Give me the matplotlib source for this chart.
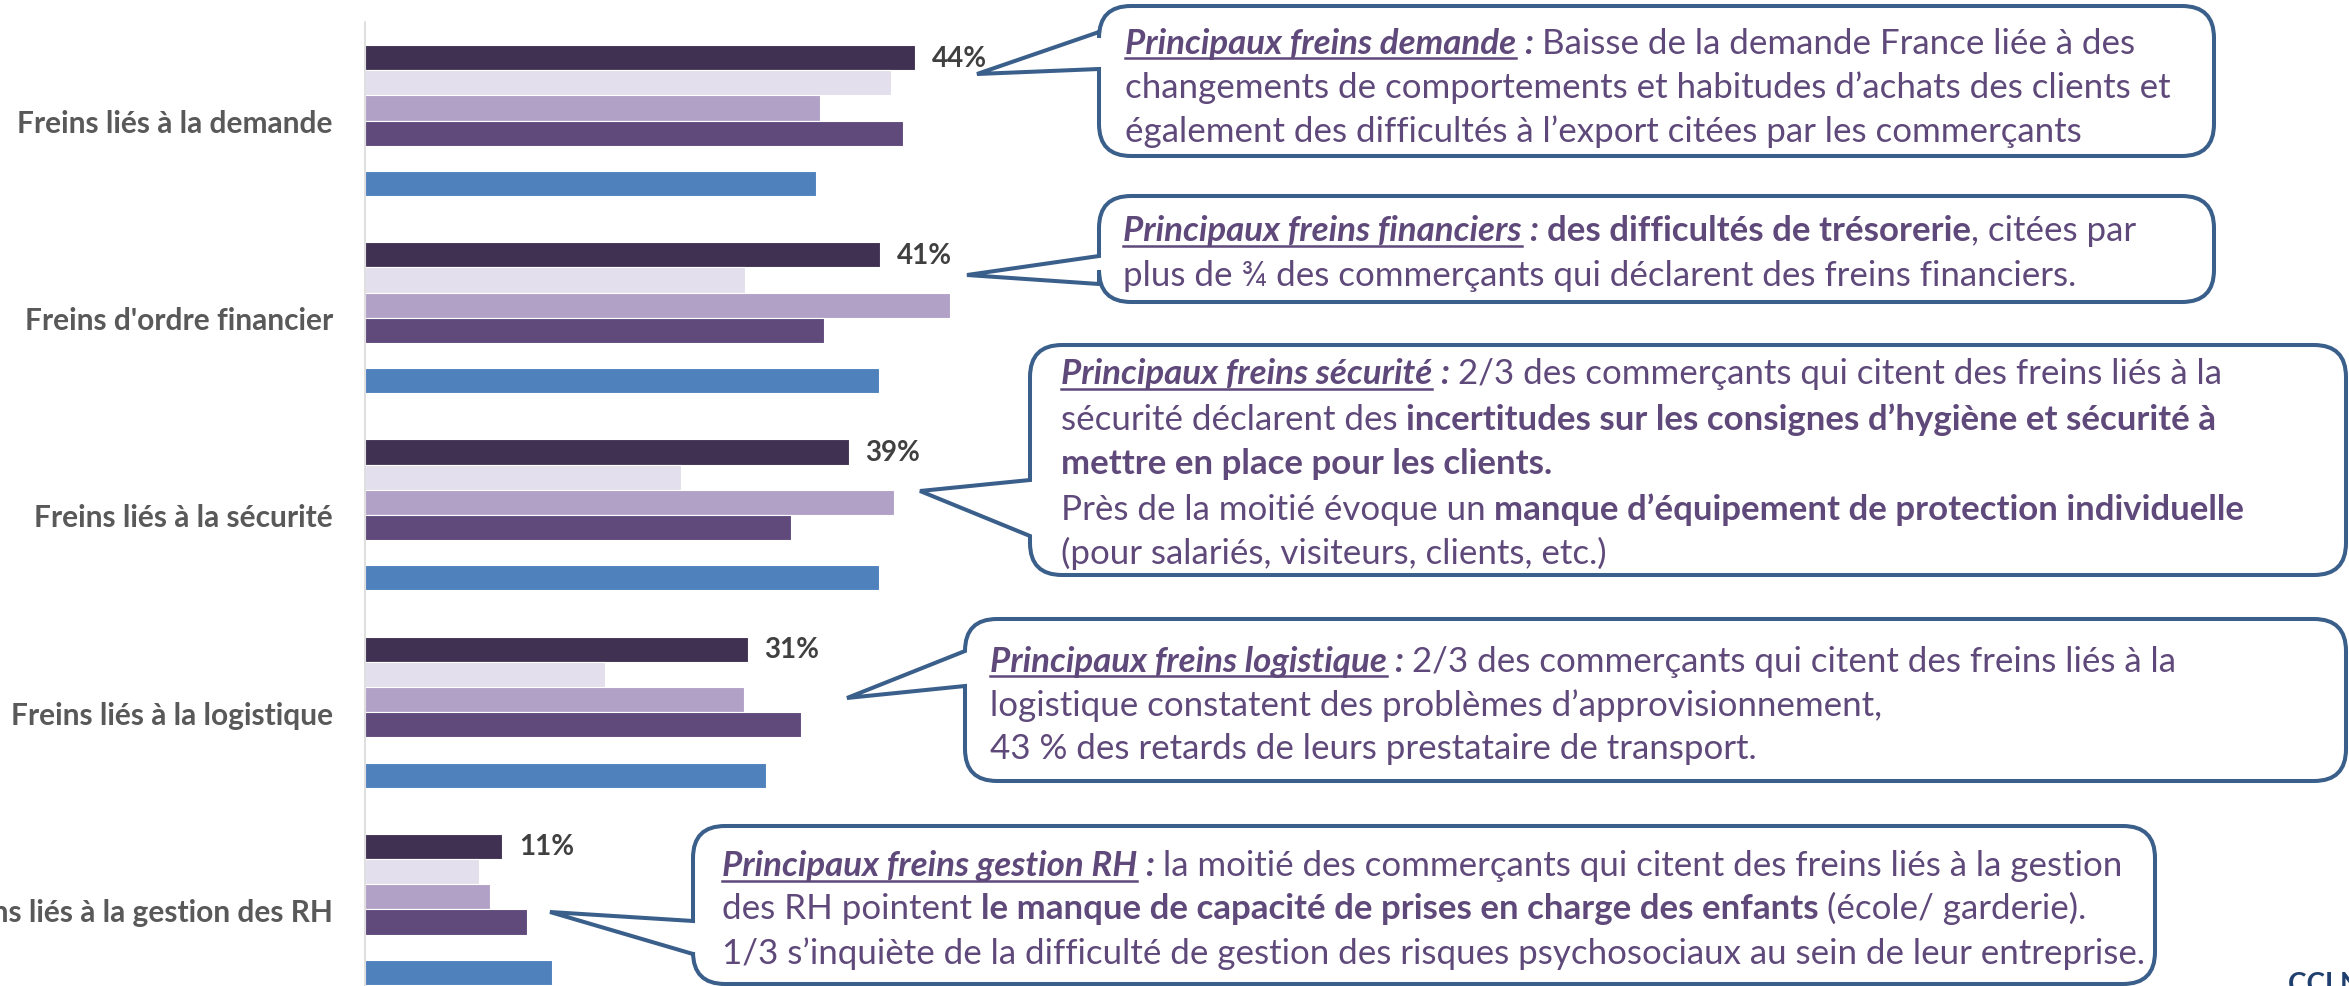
import matplotlib
matplotlib.use("Agg")
import matplotlib.pyplot as plt
import numpy as np
from matplotlib.path import Path
from matplotlib.patches import PathPatch
from matplotlib.lines import Line2D

plt.rcParams['font.family'] = ['Lato', 'DejaVu Sans']

# ==================================================
# Données
# ==================================================
categories = ["Freins liés à la demande", "Freins d'ordre financier",
              "Freins liés à la sécurité", "Freins liés à la logistique",
              "Freins liés à la gestion des RH"]
serie_1 = [44.0, 41.2, 38.7, 30.6, 11.0]   # série étiquetée
serie_2 = [42.1, 30.4, 25.3, 19.2, 9.1]
serie_3 = [36.4, 46.8, 42.3, 30.3, 10.0]
serie_4 = [43.0, 36.7, 34.1, 34.9, 13.0]
serie_5 = [36.1, 41.1, 41.1, 32.1, 15.0]

couleurs = ['#403152', '#E4DFEC', '#B2A1C7', '#604A7B', '#4F81BD']
TXT = '#5F497A'
BORD = '#3A5F8B'

W, H = 2349, 987
fig = plt.figure(figsize=(W / 100, H / 100), dpi=100)

# ==================================================
# Graphique en barres
# ==================================================
ax = fig.add_axes([364.8 / W, 0, 1 - 364.8 / W, 1 - 22.9 / H])
y = np.arange(len(categories))
bh = 0.1277
series = [serie_1, serie_2, serie_3, serie_4, serie_5]
slots = [0, 1, 2, 3, 5]   # la 5e position reste vide
for vals, col, k in zip(series, couleurs, slots):
    ax.barh(y + (k - 2.5) * bh, vals, height=bh, color=col,
            edgecolor='white', linewidth=0.8)

for i, v in enumerate(serie_1):
    ax.annotate(f"{v:.0f}%", (v, i - 2.5 * bh), xytext=(12, 0),
                textcoords='offset points', va='center', ha='left',
                fontsize=20, fontweight='bold', color='#404040')

ax.set_ylim(4.5 - 22 / 197.3, -0.5)
ax.set_xlim(0, (W - 364.8) / 12.51)
for s in ['top', 'right', 'bottom']:
    ax.spines[s].set_visible(False)
ax.spines['left'].set_color('#D9D9D9')
ax.spines['left'].set_linewidth(1.2)
ax.set_xticks([])
ax.set_yticks(y, categories)
ax.tick_params(axis='y', length=0, pad=23, labelsize=21.5, labelcolor='#595959')
for lab in ax.get_yticklabels():
    lab.set_fontweight('bold')

# ==================================================
# Bulles de commentaires
# ==================================================
renderer = fig.canvas.get_renderer()
STY = {'n': dict(),
       'b': dict(fontweight='bold'),
       'bi': dict(fontweight='bold', fontstyle='italic'),
       'h': dict(fontweight='bold', fontstyle='italic')}
FS = 25.1


def largeur(txt, st):
    t = fig.text(0, 0, txt, fontsize=FS, **STY[st])
    w = t.get_window_extent(renderer).width
    t.remove()
    return w


ESP = {st: largeur("a a", st) - largeur("aa", st) for st in STY}


def ligne(x, yc, parts):
    yb = yc + 11.5
    for txt, st in parts:
        x += (len(txt) - len(txt.lstrip(' '))) * ESP[st]
        core = txt.strip(' ')
        t = fig.text(x / W, 1 - yb / H, core, fontsize=FS, color=TXT,
                     va='baseline', ha='left', **STY[st])
        w = t.get_window_extent(renderer).width
        if st == 'h':
            fig.add_artist(Line2D([x / W, (x + w) / W], [1 - (yb + 5) / H] * 2,
                                  color=TXT, lw=1.8))
        x += w + (len(txt) - len(txt.rstrip(' '))) * ESP[st]


def bulle(x0, y0, x1, y1, bt, bb, tip, r=32):
    pts = [(x0, y0 + r), (x0, y0), (x0 + r, y0), (x1 - r, y0), (x1, y0), (x1, y0 + r),
           (x1, y1 - r), (x1, y1), (x1 - r, y1), (x0 + r, y1), (x0, y1), (x0, y1 - r),
           (x0, bb), tip, (x0, bt), (x0, y0 + r)]
    codes = [Path.MOVETO, Path.CURVE3, Path.CURVE3, Path.LINETO, Path.CURVE3, Path.CURVE3,
             Path.LINETO, Path.CURVE3, Path.CURVE3, Path.LINETO, Path.CURVE3, Path.CURVE3,
             Path.LINETO, Path.LINETO, Path.LINETO, Path.CLOSEPOLY]
    pts = [(px / W, 1 - py / H) for px, py in pts]
    fig.add_artist(PathPatch(Path(pts, codes), transform=fig.transFigure,
                             facecolor='white', edgecolor=BORD, lw=2.9,
                             joinstyle='miter'))


bulle(1099, 7, 2214, 157, 33, 70, (977, 75))
ligne(1125, 42, [("Principaux freins demande", 'h'), (" :", 'bi'),
                 (" Baisse de la demande France liée à des", 'n')])
ligne(1125, 86, [("changements de comportements et habitudes d’achats des clients et", 'n')])
ligne(1125, 130, [("également des difficultés à l’export citées par les commerçants", 'n')])

bulle(1099, 197, 2214, 303, 257, 285, (967, 276))
ligne(1123, 230, [("Principaux freins financiers", 'h'), (" :", 'bi'),
                  (" des difficultés de trésorerie", 'b'), (", citées par", 'n')])
ligne(1123, 275, [("plus de ¾ des commerçants qui déclarent des freins financiers.", 'n')])

bulle(1030, 346, 2346, 576, 481, 537, (920, 492))
ligne(1061, 373, [("Principaux freins sécurité", 'h'), (" :", 'bi'),
                  (" 2/3 des commerçants qui citent des freins liés à la", 'n')])
ligne(1061, 418, [("sécurité déclarent des ", 'n'),
                  ("incertitudes sur les consignes d’hygiène et sécurité à", 'b')])
ligne(1061, 463, [("mettre en place pour les clients.", 'b')])
ligne(1061, 508, [("Près de la moitié évoque un ", 'n'),
                  ("manque d’équipement de protection individuelle", 'b')])
ligne(1061, 553, [("(pour salariés, visiteurs, clients, etc.)", 'n')])

bulle(965, 620, 2346, 782, 652, 687, (847, 699))
ligne(990, 660, [("Principaux freins logistique", 'h'), (" :", 'bi'),
                 (" 2/3 des commerçants qui citent des freins liés à la", 'n')])
ligne(990, 705, [("logistique constatent des problèmes d’approvisionnement,", 'n')])
ligne(990, 748, [("43 % des retards de leurs prestataire de transport.", 'n')])

bulle(693, 827, 2155, 985, 922, 955, (550, 913))
ligne(722, 865, [("Principaux freins gestion RH", 'h'), (" :", 'bi'),
                 (" la moitié des commerçants qui citent des freins liés à la gestion", 'n')])
ligne(722, 908, [("des RH pointent ", 'n'),
                 ("le manque de capacité de prises en charge des enfants", 'b'),
                 (" (école/ garderie).", 'n')])
ligne(722, 953, [("1/3 s’inquiète de la difficulté de gestion des risques psychosociaux au sein de leur entreprise.", 'n')])

fig.text(2288 / W, 1 - 972 / H, "CCI N", fontsize=20, fontweight='bold',
         color='#1F3F6E', va='top', ha='left')

fig.savefig("out.png", dpi=100)
